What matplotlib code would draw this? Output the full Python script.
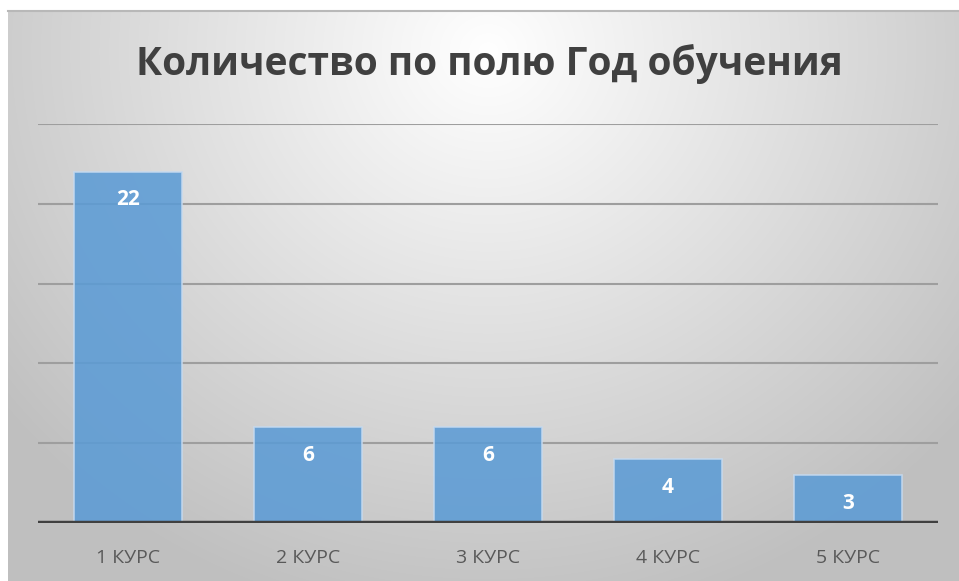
import numpy as np
import matplotlib.pyplot as plt

# chart data
categories = ["1 КУРС", "2 КУРС", "3 КУРС", "4 КУРС", "5 КУРС"]
counts = [22, 6, 6, 4, 3]
title = "Количество по полю Год обучения"

W, H, DPI = 959, 581, 100
fig = plt.figure(figsize=(W / DPI, H / DPI), dpi=DPI)
fig.patch.set_facecolor("white")

# radial grey background of the chart frame
bg = fig.add_axes([8 / W, 0, 1 - 8 / W, 1 - 11 / H])
bg.set_axis_off()
yy, xx = np.mgrid[0:570, 0:951]
d = np.sqrt(((xx - 480) / 620.0) ** 2 + ((yy - 40) / 580.0) ** 2)
d = np.clip(d, 0, 1)
shade = 1.0 - 0.25 * d ** 1.0
bg.imshow(np.dstack([shade] * 3), aspect="auto", extent=(0, 1, 0, 1),
          interpolation="bilinear")
bg.plot([0, 1], [1, 1], color="#b8b8b8", lw=1.5, transform=bg.transAxes,
        clip_on=False)
bg.set_xlim(0, 1)
bg.set_ylim(0, 1)

ax = fig.add_axes([38 / W, (H - 523) / H, 900 / W, 399 / H])
ax.patch.set_alpha(0)
x = np.arange(len(categories))
bars = ax.bar(x, counts, width=0.6, color="#5b9bd5", alpha=0.87,
              edgecolor="#c5daf0", linewidth=1.2, zorder=3)
ax.set_xlim(-0.5, len(categories) - 0.5)
ax.set_ylim(0, 25)
ax.set_yticks([0, 5, 10, 15, 20, 25])
ax.yaxis.grid(True, color="#9e9e9e", lw=1.5, zorder=1)
ax.tick_params(left=False, labelleft=False, bottom=False)
ax.set_xticks(x)
ax.set_xticklabels(categories, family="Open Sans", fontsize=14,
                   color="#595959")
ax.tick_params(axis="x", pad=15)
for s in ax.spines.values():
    s.set_visible(False)
ax.axhline(0, color="#404040", lw=3.2, zorder=4)

for xi, v in zip(x, counts):
    ax.annotate(str(v), (xi, v), xytext=(0, -28), textcoords="offset pixels",
                ha="center", va="center", color="white", fontweight="bold",
                family="Open Sans", fontsize=15, zorder=5)

fig.text(489 / W, 1 - 64 / H, title, ha="center", va="center",
         family="Open Sans", fontweight="bold", fontsize=28, color="#404040")

fig.savefig("out.png", dpi=DPI)
